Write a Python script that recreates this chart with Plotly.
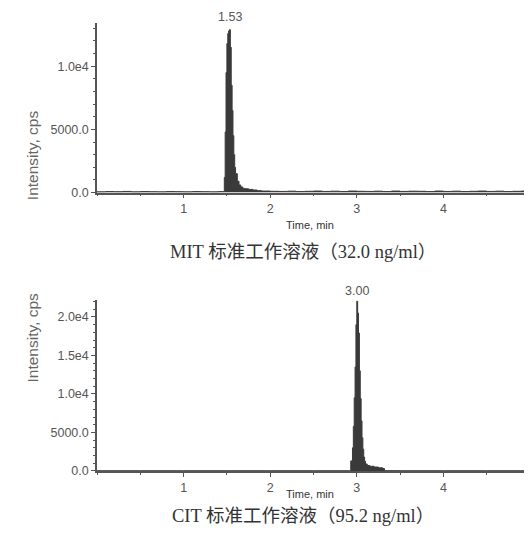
import plotly.graph_objects as go

# ---------------- data ----------------
mit_time = [0.00, 0.10, 0.20, 0.30, 0.40, 0.50, 0.60, 0.70, 0.80, 0.90, 1.00, 1.10, 1.20, 1.30, 1.40,
            1.46, 1.47, 1.48, 1.49, 1.50, 1.51, 1.52, 1.53, 1.54, 1.55, 1.56, 1.57, 1.58, 1.59, 1.60,
            1.62, 1.64, 1.66, 1.68, 1.70, 1.75, 1.80, 1.85, 1.90, 2.00, 2.10, 2.20, 2.30, 2.40, 2.50,
            2.60, 2.70, 2.80, 2.90, 3.00, 3.10, 3.20, 3.30, 3.40, 3.50, 3.60, 3.70, 3.80, 3.90, 4.00,
            4.10, 4.20, 4.30, 4.40, 4.50, 4.60, 4.70, 4.80, 4.90, 5.00]
mit_intensity = [60, 80, 70, 90, 60, 80, 70, 60, 80, 70, 60, 80, 70, 60, 80,
                 90, 1200, 4800, 9500, 11800, 12600, 12800, 12900, 11500, 8500, 6500, 4500, 3000, 2000, 1500,
                 900, 600, 450, 350, 300, 250, 200, 150, 120, 100, 90, 110, 80, 100, 120,
                 90, 110, 80, 120, 100, 90, 110, 80, 120, 90, 110, 100, 80, 120, 90,
                 110, 80, 100, 120, 90, 110, 80, 100, 120, 90]

cit_time = [0.00, 0.50, 1.00, 1.50, 2.00, 2.50, 2.92, 2.93, 2.95, 2.96, 2.97, 2.98, 2.99, 3.00,
            3.01, 3.02, 3.03, 3.04, 3.05, 3.06, 3.07, 3.08, 3.09, 3.10, 3.12, 3.15, 3.20, 3.25,
            3.30, 3.32, 3.50, 4.00, 4.50, 5.00]
cit_intensity = [20, 20, 20, 20, 20, 20, 20, 1300, 3000, 5800, 9500, 13500, 19000, 22050,
                 20500, 17900, 13000, 9400, 6500, 4300, 2800, 1800, 1270, 900, 700, 600, 500, 400,
                 300, 30, 20, 20, 20, 20]

x_tick_vals = [1, 2, 3, 4]
mit_y_ticks = [0, 5000, 10000]
mit_y_labels = ["0.0", "5000.0", "1.0e4"]
cit_y_ticks = [0, 5000, 10000, 15000, 20000]
cit_y_labels = ["0.0", "5000.0", "1.0e4", "1.5e4", "2.0e4"]

mit_caption = "MIT 标准工作溶液（32.0 ng/ml）"
cit_caption = "CIT 标准工作溶液（95.2 ng/ml）"
x_title = "Time, min"
y_title = "Intensity, cps"

# ---------------- figure ----------------
# the page body has an 8px default margin; lay out in window pixels and convert
OX, OY = 8, 8
W, H = 532 - OX, 547 - OY

def px(xp):
    return (xp - OX) / W

def py(yp):
    return 1 - (yp - OY) / H

fill_col = "#3a3a3a"
axis_col = "#555555"
sans = "Liberation Sans, Arial, sans-serif"
tick_font = dict(family=sans, size=12.5, color="#555555")

fig = go.Figure()
fig.add_trace(go.Scatter(x=mit_time, y=mit_intensity, mode="lines", line=dict(shape="hv", color=fill_col, width=1),
                         fill="tozeroy", fillcolor=fill_col, xaxis="x", yaxis="y", showlegend=False))
fig.add_trace(go.Scatter(x=cit_time, y=cit_intensity, mode="lines", line=dict(shape="hv", color=fill_col, width=1),
                         fill="tozeroy", fillcolor=fill_col, xaxis="x2", yaxis="y2", showlegend=False))

xdom = [px(97), px(530)]
top_dom = [py(195), py(23)]
bot_dom = [py(477), py(304)]

def xaxis_cfg(anchor):
    return dict(domain=xdom, anchor=anchor, range=[0, 5], tickvals=x_tick_vals,
                showline=True, linecolor=axis_col, linewidth=1.5, ticks="outside", ticklen=4,
                tickcolor=axis_col, tickfont=tick_font, showgrid=False, zeroline=False,
                minor=dict(dtick=0.5, ticks="outside", ticklen=2, tickcolor=axis_col, showgrid=False))

def yaxis_cfg(anchor, dom, rng, vals, labels):
    return dict(domain=dom, anchor=anchor, range=rng, tickvals=vals, ticktext=labels,
                showline=True, linecolor=axis_col, linewidth=1.5, ticks="outside", ticklen=4,
                tickcolor=axis_col, tickfont=tick_font, showgrid=False, zeroline=False,
                minor=dict(dtick=1000, tick0=0, ticks="outside", ticklen=2, tickcolor=axis_col, showgrid=False))

fig.update_layout(
    width=W, height=H, margin=dict(l=0, r=0, t=0, b=0),
    paper_bgcolor="white", plot_bgcolor="white",
    xaxis=xaxis_cfg("y"),
    yaxis=yaxis_cfg("x", top_dom, [0, 13440], mit_y_ticks, mit_y_labels),
    xaxis2=xaxis_cfg("y2"),
    yaxis2=yaxis_cfg("x2", bot_dom, [0, 22180], cit_y_ticks, cit_y_labels),
)

ann_font = dict(family=sans, size=12.5, color="#555555")
mit_peak_i = mit_intensity.index(max(mit_intensity))
cit_peak_i = cit_intensity.index(max(cit_intensity))
xt_font = dict(family=sans, size=11, color="#333333")
yt_font = dict(family=sans, size=15.5, color="#666666")
cap_font = dict(family="Liberation Serif, Noto Sans CJK SC, serif", size=18.5, color="#333333")
annotations = [
    dict(x=mit_time[mit_peak_i], y=mit_intensity[mit_peak_i], xref="x", yref="y", text=f"{mit_time[mit_peak_i]:.2f}",
         showarrow=False, yanchor="bottom", yshift=4, font=ann_font),
    dict(x=cit_time[cit_peak_i], y=cit_intensity[cit_peak_i], xref="x2", yref="y2", text=f"{cit_time[cit_peak_i]:.2f}",
         showarrow=False, yanchor="bottom", yshift=1, font=ann_font),
    dict(x=px(310), y=py(228), xref="paper", yref="paper", text=x_title, showarrow=False, font=xt_font),
    dict(x=px(310), y=py(508), xref="paper", yref="paper", text=x_title, showarrow=False, font=xt_font),
    dict(x=px(22), y=py(110), xref="paper", yref="paper", text=y_title, showarrow=False, textangle=-90, font=yt_font),
    dict(x=px(22), y=py(390), xref="paper", yref="paper", text=y_title, showarrow=False, textangle=-90, font=yt_font),
    dict(x=px(303), y=py(255), xref="paper", yref="paper", text=mit_caption, showarrow=False, font=cap_font),
    dict(x=px(303), y=py(535), xref="paper", yref="paper", text=cit_caption, showarrow=False, font=cap_font),
]
fig.update_layout(annotations=annotations)

fig.write_html("out.html")
